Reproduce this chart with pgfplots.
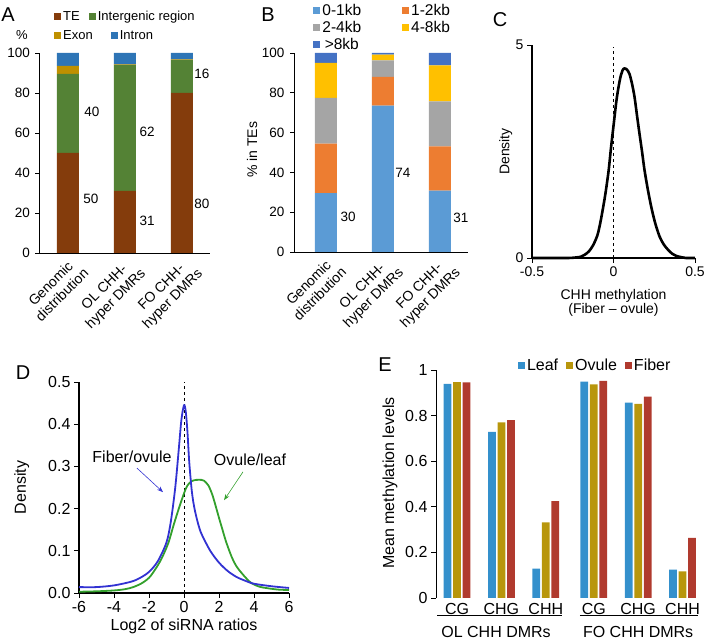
\documentclass[border=0pt]{standalone}
\usepackage{pgfplots}
\pgfplotsset{compat=1.18}
\usepackage{fontspec}
\setmainfont{Liberation Sans}
\usetikzlibrary{arrows.meta}

\definecolor{teC}{RGB}{132,60,12}
\definecolor{igC}{RGB}{84,130,53}
\definecolor{exC}{RGB}{191,144,0}
\definecolor{inC}{RGB}{46,117,182}
\definecolor{bA}{RGB}{91,155,213}
\definecolor{bB}{RGB}{237,125,49}
\definecolor{bC}{RGB}{165,165,165}
\definecolor{bD}{RGB}{255,192,0}
\definecolor{bE}{RGB}{68,114,196}
\definecolor{leafC}{RGB}{52,144,204}
\definecolor{ovuleC}{RGB}{184,150,12}
\definecolor{fiberC}{RGB}{176,58,46}
\definecolor{dBlue}{RGB}{50,50,210}
\definecolor{dGreen}{RGB}{51,160,44}

\newcommand{\fs}[1]{\fontsize{#1}{#1}\selectfont}

\pgfplotsset{
  every axis/.append style={/pgf/number format/assume math mode=true},
  sqleg/.style={legend image code/.code={\fill[##1] (0pt,-3.5pt) rectangle (7pt,3.5pt);}},
  common/.style={scale only axis, anchor=south west, axis line style={-}, clip=false},
}

\begin{document}
\begin{tikzpicture}
\useasboundingbox (0,0) rectangle (709pt,644pt);

% ---------------- Panel A ----------------
\begin{axis}[common,
  at={(39.5pt,391pt)}, width=171pt, height=200pt,
  xmin=-0.5, xmax=2.5, ymin=0, ymax=100,
  ybar stacked, bar width=22pt,
  axis x line=bottom, axis y line=left,
  axis line style={line width=0.8pt, -},
  xtick={0,1,2},
  xticklabels={Genomic\\distribution, OL CHH-\\hyper DMRs, FO CHH-\\hyper DMRs},
  xticklabel style={rotate=45, anchor=north east, align=center, font=\fontsize{14}{16}\selectfont, inner sep=1pt, xshift=4pt},
  x tick style={draw=none},
  ytick={0,20,...,100},
  yticklabel style={font=\fs{13.5}, xshift=-2pt},
  tick align=outside, major tick length=4pt,
  y tick style={black, line width=0.6pt},
  sqleg,
  legend columns=2,
  legend style={draw=none, fill=none, at={(0.085,1.18)}, anchor=west, font=\fs{13},
    /tikz/every even column/.append style={column sep=7pt}, inner sep=0pt},
]
\addplot[fill=teC, draw=none] coordinates {(0,50) (1,31) (2,80)};
\addplot[fill=igC, draw=none] coordinates {(0,39.5) (1,63) (2,16.5)};
\addplot[fill=exC, draw=none, forget plot] coordinates {(0,4) (1,0.3) (2,0.3)};
\addplot[fill=inC, draw=none, forget plot] coordinates {(0,6.5) (1,5.7) (2,3.2)};
\legend{TE, Intergenic region}
\node[font=\fs{13.5}] at (axis cs:0.42,70.5) {40};
\node[font=\fs{13.5}] at (axis cs:0.40,27) {50};
\node[font=\fs{13.5}] at (axis cs:1.39,60.5) {62};
\node[font=\fs{13.5}] at (axis cs:1.39,16) {31};
\node[font=\fs{13.5}] at (axis cs:2.35,24.5) {80};
\node[font=\fs{13.5}] at (axis cs:2.35,89.5) {16};
\end{axis}
% second legend row for panel A
\begin{axis}[common,
  at={(39.5pt,391pt)}, width=171pt, height=200pt,
  xmin=-0.5, xmax=2.5, ymin=0, ymax=100, hide axis,
  sqleg, legend columns=2,
  legend style={draw=none, fill=none, at={(0.085,1.0875)}, anchor=west, font=\fs{13},
    /tikz/every even column/.append style={column sep=16pt}, inner sep=0pt},
]
\addlegendimage{fill=exC, draw=none}
\addlegendentry{Exon}
\addlegendimage{fill=inC, draw=none}
\addlegendentry{Intron}
\end{axis}
\node[font=\fs{20}] at (8pt,629pt) {A};
\node[font=\fs{13}] at (22pt,609pt) {\%};

% ---------------- Panel B ----------------
\begin{axis}[common,
  at={(294pt,392pt)}, width=174.4pt, height=199pt,
  xmin=-0.56, xmax=2.5, ymin=0, ymax=100,
  ybar stacked, bar width=22pt,
  axis x line=bottom, axis y line=left,
  axis line style={line width=0.8pt, -},
  xtick={0,1,2},
  xticklabels={Genomic\\distribution, OL CHH-\\hyper DMRs, FO CHH-\\hyper DMRs},
  xticklabel style={rotate=45, anchor=north east, align=center, font=\fontsize{14}{16}\selectfont, inner sep=1pt, xshift=4pt},
  x tick style={draw=none},
  ytick={0,20,...,100},
  yticklabel style={font=\fs{13.5}, xshift=-2pt},
  tick align=outside, major tick length=4pt,
  y tick style={black, line width=0.6pt},
  sqleg,
  legend columns=2,
  legend style={draw=none, fill=none, at={(0.11,1.255)}, anchor=north west, font=\fs{15.5},
    /tikz/every even column/.append style={column sep=39pt}, inner sep=0pt, row sep=0pt},
]
\addplot[fill=bA, draw=none] coordinates {(0,29.6) (1,73.5) (2,30.8)};
\addplot[fill=bB, draw=none] coordinates {(0,24.8) (1,14.5) (2,22.3)};
\addplot[fill=bC, draw=none] coordinates {(0,23.0) (1,8.3) (2,22.6)};
\addplot[fill=bD, draw=none] coordinates {(0,17.6) (1,2.9) (2,18.1)};
\addplot[fill=bE, draw=none] coordinates {(0,5.0) (1,0.8) (2,6.2)};
\legend{0-1kb, 1-2kb, 2-4kb, 4-8kb, >8kb}
\node[font=\fs{13.5}] at (axis cs:0.39,17.6) {30};
\node[font=\fs{13.5}] at (axis cs:1.35,39.7) {74};
\node[font=\fs{13.5}] at (axis cs:2.37,17) {31};
\end{axis}
\node[font=\fs{20}] at (268pt,629pt) {B};
\node[font=\fs{14}, rotate=90] at (252pt,494pt) {\% in TEs};

% ---------------- Panel C ----------------
\begin{axis}[common,
  at={(532pt,386pt)}, width=163pt, height=213pt,
  xmin=-0.5, xmax=0.5, ymin=0, ymax=5,
  axis x line=bottom, axis y line=left,
  axis line style={line width=2.4pt, -},
  xtick={-0.5,0,0.5}, xticklabels={-0.5,0,0.5},
  ytick={0,5},
  tick align=outside, major tick length=5pt,
  tick style={black, line width=0.8pt},
  ticklabel style={font=\fs{14}},
  xlabel={CHH methylation\\(Fiber -- ovule)},
  xlabel style={align=center, font=\fs{14}, at={(axis description cs:0.5,-0.13)}, anchor=north},
  ylabel={Density},
  ylabel style={font=\fs{14}, at={(axis description cs:-0.1,0.5)}, anchor=south},
]
\addplot[black, dashed, line width=0.6pt] coordinates {(0,0) (0,4.95)};
\addplot[black, line width=2.6pt, smooth, tension=0.5] coordinates {
(-0.5,0) (-0.3,0) (-0.25,0.005) (-0.2,0.03) (-0.175,0.08) (-0.15,0.16)
(-0.125,0.3) (-0.1,0.52) (-0.085,0.75) (-0.07,1.05) (-0.05,1.5) (-0.03,2.05)
(-0.015,2.6) (0,3.1) (0.02,3.75) (0.04,4.2) (0.055,4.4) (0.067,4.45)
(0.083,4.42) (0.098,4.32) (0.113,4.1) (0.129,3.78) (0.144,3.35) (0.159,2.93)
(0.175,2.5) (0.19,2.07) (0.21,1.62) (0.231,1.21) (0.255,0.83) (0.282,0.51)
(0.308,0.32) (0.333,0.2) (0.36,0.1) (0.384,0.05) (0.42,0.015) (0.445,0) (0.5,0)};
\end{axis}
\node[font=\fs{20}] at (500pt,624pt) {C};

% ---------------- Panel D ----------------
\begin{axis}[common,
  at={(79pt,51pt)}, width=210pt, height=211pt,
  xmin=-6, xmax=6, ymin=0, ymax=0.5,
  axis x line=bottom, axis y line=left,
  axis line style={line width=1.2pt, -},
  xtick={-6,-4,...,6}, xticklabels={-6,-4,-2,0,2,4,6},
  ytick={0,0.1,...,0.5},
  yticklabel style={/pgf/number format/.cd, fixed, fixed zerofill, precision=1},
  tick align=outside, major tick length=5pt,
  tick style={black, line width=0.8pt},
  ticklabel style={font=\fs{16}},
  xlabel={Log2 of siRNA ratios},
  xlabel style={font=\fs{16}, at={(axis description cs:0.5,-0.105)}, anchor=north},
  ylabel={Density},
  ylabel style={font=\fs{16}, at={(axis description cs:-0.22,0.5)}, anchor=south},
]
\addplot[black, dashed, line width=0.6pt] coordinates {(0,0) (0,0.5)};
\addplot[dGreen, line width=1.8pt, smooth, tension=0.5] coordinates {
(-6,0.003) (-5,0.004) (-4,0.006) (-3.37,0.009) (-2.9,0.014) (-2.42,0.023)
(-2,0.036) (-1.66,0.055) (-1.3,0.08) (-0.9,0.118) (-0.6,0.16) (-0.32,0.197)
(0,0.236) (0.2,0.255) (0.44,0.265) (0.7,0.268) (1.0,0.268) (1.15,0.266)
(1.39,0.255) (1.6,0.235) (1.77,0.212) (2.0,0.178) (2.15,0.157) (2.4,0.122)
(2.72,0.086) (3.0,0.063) (3.3,0.047) (3.6,0.033) (3.87,0.023) (4.3,0.015)
(4.82,0.011) (5.4,0.008) (6,0.007)};
\addplot[dBlue, line width=1.8pt, smooth, tension=0.5] coordinates {
(-6,0.014) (-5,0.014) (-4,0.018) (-3,0.027) (-2.5,0.036) (-2,0.05)
(-1.5,0.075) (-1,0.12) (-0.75,0.17) (-0.5,0.25) (-0.3,0.34) (-0.15,0.41)
(0,0.445) (0.1,0.43) (0.2,0.38) (0.3,0.31) (0.45,0.24) (0.6,0.2)
(0.8,0.165) (1.0,0.14) (1.5,0.1) (2,0.072) (2.5,0.052) (3,0.038)
(3.5,0.029) (4,0.022) (5,0.016) (6,0.012)};
\node[font=\fs{16}] at (axis cs:-2.97,0.322) {Fiber/ovule};
\draw[dBlue, line width=0.6pt, -{Stealth[length=6pt]}] (axis cs:-2.69,0.296) -- (axis cs:-1.2,0.239);
\node[font=\fs{16}] at (axis cs:3.77,0.315) {Ovule/leaf};
\draw[dGreen, line width=0.6pt, -{Stealth[length=6pt]}] (axis cs:3.37,0.287) -- (axis cs:2.29,0.22);
\end{axis}
\node[font=\fs{20}] at (23pt,271pt) {D};

% ---------------- Panel E ----------------
\begin{axis}[common,
  at={(436pt,46pt)}, width=264pt, height=228pt,
  xmin=-0.473, xmax=5.473, ymin=0, ymax=1,
  ybar, bar width=7.7pt,
  axis x line=bottom, axis y line=left,
  x axis line style={draw=none},
  y axis line style={line width=1pt, -},
  xtick={0,1,2,3.08,4.08,5.08},
  xticklabels={CG,CHG,CHH,CG,CHG,CHH},
  x tick style={draw=none},
  xticklabel style={font=\fs{16}, yshift=3pt},
  ytick={0,0.2,...,1},
  yticklabel style={font=\fs{16}},
  tick align=outside, major tick length=5pt,
  y tick style={black, line width=0.8pt},
  sqleg,
  legend columns=3,
  legend style={draw=none, fill=none, at={(0.31,1.018)}, anchor=west, font=\fs{16},
    /tikz/every even column/.append style={column sep=6pt}, inner sep=0pt},
]
\addplot[fill=leafC, draw=none, bar shift=-9.5pt] coordinates {
(0,0.939) (1,0.729) (2,0.129) (3.08,0.949) (4.08,0.857) (5.08,0.124)};
\addplot[fill=ovuleC, draw=none, bar shift=0pt] coordinates {
(0,0.947) (1,0.770) (2,0.332) (3.08,0.937) (4.08,0.851) (5.08,0.117)};
\addplot[fill=fiberC, draw=none, bar shift=9.5pt] coordinates {
(0,0.946) (1,0.780) (2,0.425) (3.08,0.952) (4.08,0.883) (5.08,0.264)};
\legend{Leaf, Ovule, Fiber}
\draw[black, line width=0.8pt] (axis cs:-0.45,-0.075) -- (axis cs:2.36,-0.075);
\draw[black, line width=0.8pt] (axis cs:2.77,-0.075) -- (axis cs:5.43,-0.075);
\node[font=\fs{16}] at (axis cs:0.88,-0.149) {OL CHH DMRs};
\node[font=\fs{16}] at (axis cs:4.08,-0.149) {FO CHH DMRs};
\end{axis}
\node[font=\fs{20}] at (385pt,279pt) {E};
\node[font=\fs{16}, rotate=90] at (390pt,161pt) {Mean methylation levels};

\end{tikzpicture}
\end{document}
